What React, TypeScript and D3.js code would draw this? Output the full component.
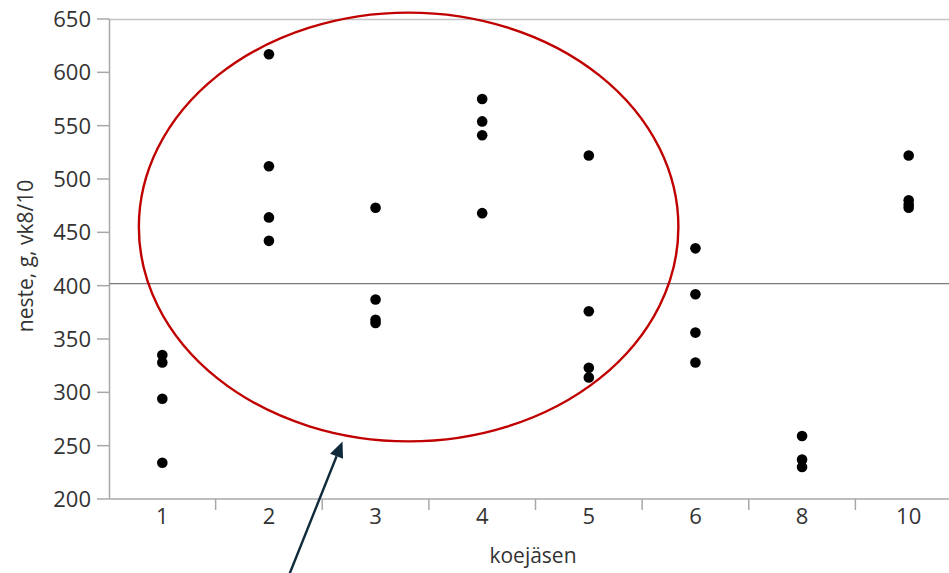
import * as d3 from 'd3'

// koejäsen (test member) categories
const members = ['1', '2', '3', '4', '5', '6', '8', '10']

// neste, g, vk8/10 values per member
const member1 = [335, 328, 294, 234]
const member2 = [617, 512, 464, 442]
const member3 = [473, 387, 368, 365]
const member4 = [575, 554, 541, 468]
const member5 = [522, 376, 323, 314]
const member6 = [435, 392, 356, 328]
const member8 = [259, 237, 230]
const member10 = [522, 480, 476, 473]
const valuesByMember = [member1, member2, member3, member4, member5, member6, member8, member10]

const yTicks = [200, 250, 300, 350, 400, 450, 500, 550, 600, 650]
const referenceValue = 402

// annotation (in band index / data units)
const ellipseCenter = { band: 2.31, value: 455 }
const ellipseRadius = { bands: 2.53, value: 201 }
const arrowTip = { band: 1.69, value: 254 }

const W = 949
const H = 573
const FONT = '"Open Sans", "Noto Sans", sans-serif'

export default function App() {
  const x = d3.scaleBand<string>().domain(members).range([109, 962]).padding(0)
  const y = d3.scaleLinear().domain([200, 650]).range([499, 19])
  const bw = x.bandwidth()
  const bandPos = (b: number) => 109 + (b + 0.5) * bw
  const unitPx = y(200) - y(201)

  const points = members.flatMap((m, i) => valuesByMember[i].map((v) => ({ m, v })))

  const left = 109.5
  const bottom = y(200)
  const top = y(650)

  // arrow geometry
  const tipX = bandPos(arrowTip.band)
  const tipY = y(arrowTip.value)
  const dir = [-0.371, 0.928]
  const tailX = tipX + dir[0] * 145
  const tailY = tipY + dir[1] * 145
  const headLen = 16
  const headW = 7
  const bx = tipX + dir[0] * headLen
  const by = tipY + dir[1] * headLen
  const nx = -dir[1]
  const ny = dir[0]
  const head = [
    [tipX, tipY],
    [bx + nx * headW, by + ny * headW],
    [bx - nx * headW, by - ny * headW],
  ]

  return (
    <svg width={W} height={H} style={{ position: 'absolute', left: 0, top: 0, background: '#fff' }}>
      {/* frame */}
      <line x1={left} x2={W} y1={top + 0.5} y2={top + 0.5} stroke="#c4c4c4" strokeWidth={1.5} />
      <line x1={left} x2={W} y1={bottom} y2={bottom} stroke="#a8a8a8" strokeWidth={1.5} />
      <line x1={left} x2={left} y1={top} y2={bottom} stroke="#a8a8a8" strokeWidth={1.5} />

      {/* y ticks */}
      {yTicks.map((t) => (
        <g key={t}>
          <line x1={97} x2={left} y1={y(t)} y2={y(t)} stroke="#a8a8a8" strokeWidth={1.5} />
          <text x={91} y={y(t)} dy="0.36em" textAnchor="end" fontFamily={FONT} fontSize={22} fill="#333">
            {t}
          </text>
        </g>
      ))}

      {/* x ticks at band boundaries */}
      {members.slice(1).map((m) => (
        <line key={m} x1={x(m)!} x2={x(m)!} y1={bottom} y2={bottom + 11} stroke="#a8a8a8" strokeWidth={1.5} />
      ))}
      {members.map((m) => (
        <text key={m} x={x(m)! + bw / 2} y={524} textAnchor="middle" fontFamily={FONT} fontSize={22} fill="#333">
          {m}
        </text>
      ))}

      {/* reference line */}
      <line x1={left} x2={W} y1={y(referenceValue)} y2={y(referenceValue)} stroke="#7a7a7a" strokeWidth={1.3} />

      {/* points */}
      {points.map((p, i) => (
        <circle key={i} cx={x(p.m)! + bw / 2} cy={y(p.v)} r={5.3} fill="#000" />
      ))}

      {/* axis titles */}
      <text x={533} y={563} textAnchor="middle" fontFamily={FONT} fontSize={21} fill="#333">
        koejäsen
      </text>
      <text
        transform={`translate(33,256) rotate(-90)`}
        textAnchor="middle"
        fontFamily={FONT}
        fontSize={21}
        fill="#333"
      >
        neste, g, vk8/10
      </text>

      {/* annotation */}
      <ellipse
        cx={bandPos(ellipseCenter.band)}
        cy={y(ellipseCenter.value)}
        rx={ellipseRadius.bands * bw}
        ry={ellipseRadius.value * unitPx}
        fill="none"
        stroke="#c00000"
        strokeWidth={2.4}
      />
      <line x1={tailX} y1={tailY} x2={bx} y2={by} stroke="#0f2a3a" strokeWidth={2.4} />
      <polygon points={head.map((p) => p.join(',')).join(' ')} fill="#0f2a3a" />
    </svg>
  )
}
